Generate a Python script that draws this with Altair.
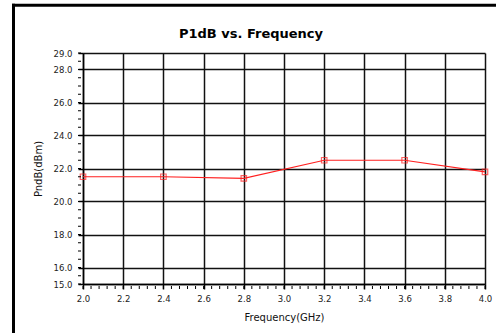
import altair as alt
import pandas as pd

title_text = "P1dB vs. Frequency"
freq = [2.0, 2.4, 2.8, 3.2, 3.6, 4.0]
p1db = [21.5, 21.5, 21.4, 22.5, 22.5, 21.8]

x_major = [2.0, 2.2, 2.4, 2.6, 2.8, 3.0, 3.2, 3.4, 3.6, 3.8, 4.0]
x_minor = [round(2.0 + 0.04 * i, 2) for i in range(51)]
y_major = [15.0, 16.0, 18.0, 20.0, 22.0, 24.0, 26.0, 28.0, 29.0]
y_minor = [15.0 + 0.5 * i for i in range(29)]

df = pd.DataFrame({"freq": freq, "p1db": p1db})
dfx = pd.DataFrame({"xm": x_minor})
dfy = pd.DataFrame({"ym": y_minor})

FONT = "DejaVu Sans"
W, H = 402, 231

xs = alt.Scale(domain=[2.0, 4.0], nice=False, zero=False)
ys = alt.Scale(domain=[15.0, 29.0], nice=False, zero=False)

base = alt.Chart(df)

ax_common = dict(grid=True, gridColor="#111", gridWidth=1.5,
                 domainColor="black", domainWidth=1.5,
                 tickSize=5, tickColor="black", tickWidth=1.5,
                 labelFontSize=8.5, labelColor="#222", labelFont=FONT,
                 labelOverlap=False, labelFlush=False, tickCount=30,
                 titleFontSize=10, titleFontWeight="normal", titleFont=FONT,
                 titleColor="#111", format=".1f")

line = base.mark_line(color="#ff2020", strokeWidth=1.2).encode(
    x=alt.X("freq:Q", scale=xs, axis=alt.Axis(values=x_major, title="Frequency(GHz)",
                                               labelPadding=5, titlePadding=10, **ax_common)),
    y=alt.Y("p1db:Q", scale=ys, axis=alt.Axis(values=y_major, title="PndB(dBm)",
                                               labelPadding=6, titlePadding=10, **ax_common)),
)

pts = base.mark_point(shape="square", filled=False, color="#ff2020", size=30, strokeWidth=1.2).encode(
    x=alt.X("freq:Q", scale=xs),
    y=alt.Y("p1db:Q", scale=ys),
)

xminor = alt.Chart(dfx).mark_rule(color="black", strokeWidth=1, clip=False).encode(
    x=alt.X("xm:Q", scale=xs), y=alt.value(H + 2), y2=alt.value(H + 5))
yminor = alt.Chart(dfy).mark_rule(color="black", strokeWidth=1, clip=False).encode(
    y=alt.Y("ym:Q", scale=ys), x=alt.value(-5), x2=alt.value(-2))

one = pd.DataFrame({"t": [title_text]})
title_mark = alt.Chart(one).mark_text(font=FONT, fontSize=13, fontWeight="bold", color="black",
                                      align="center", baseline="alphabetic").encode(
    text="t:N", x=alt.value(168), y=alt.value(-15))

frame_left = alt.Chart(one).mark_rule(color="black", strokeWidth=3, clip=False).encode(
    x=alt.value(-69.5), y=alt.value(-49.2), y2=alt.value(H + 60))
frame_top = alt.Chart(one).mark_rule(color="black", strokeWidth=3, clip=False).encode(
    x=alt.value(-71), x2=alt.value(W + 20), y=alt.value(-47.7))

chart = alt.layer(line, pts, xminor, yminor, title_mark, frame_left, frame_top).properties(
    width=W, height=H,
    padding={"left": 83, "top": 53, "right": 11, "bottom": 49},
    autosize=alt.AutoSizeParams(type="none"),
).configure(font=FONT).configure_view(stroke=None)

chart.save("out.html", embed_options={"renderer": "svg", "actions": False})
